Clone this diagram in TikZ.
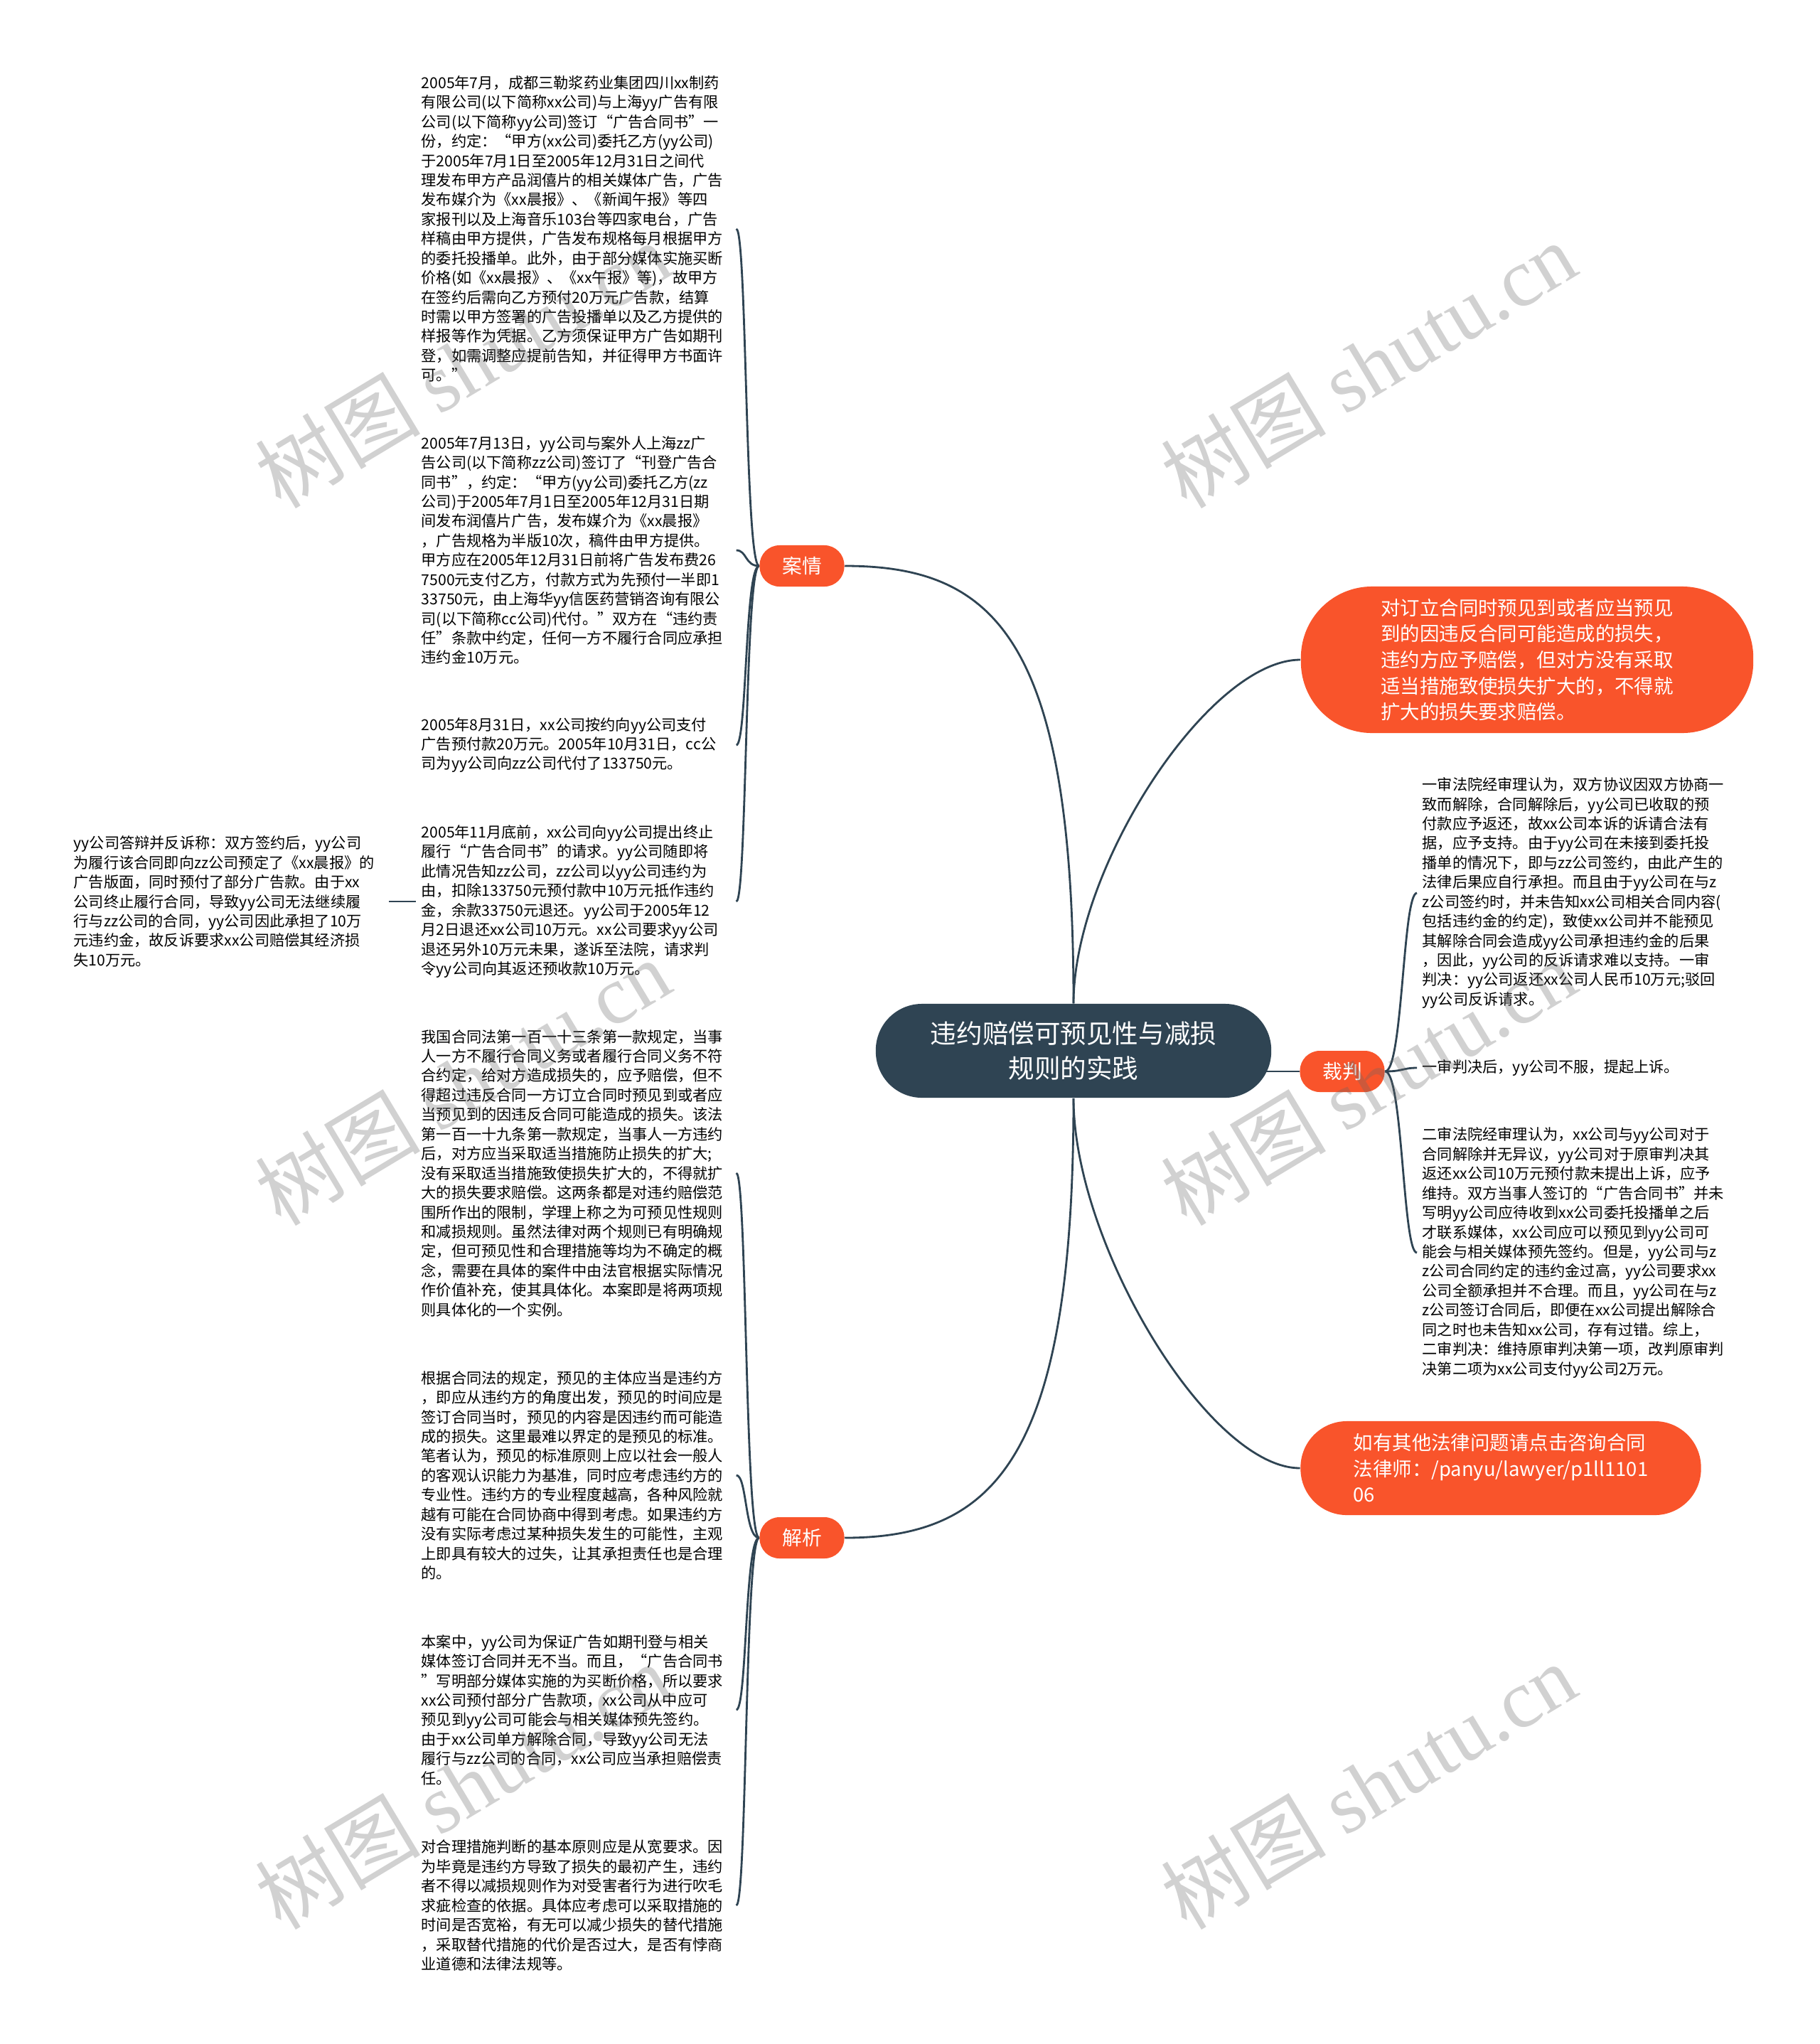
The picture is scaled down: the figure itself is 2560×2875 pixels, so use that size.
\documentclass[tikz,border=0pt]{standalone}
\usepackage{fontspec}
\setmainfont{Noto Sans CJK SC}
\newfontfamily\wmlatin{Liberation Serif}
\usetikzlibrary{positioning,backgrounds}

\definecolor{mmorange}{RGB}{249,84,43}
\definecolor{mmdark}{RGB}{47,68,83}

\tikzset{
  root/.style={fill=mmdark, text=white, rounded corners=0.65cm, minimum width=5.56cm,
    minimum height=1.32cm, align=center, font=\fontsize{10.4pt}{14pt}\selectfont},
  topic/.style={fill=mmorange, text=white, rounded corners=0.28cm, minimum width=1.19cm,
    minimum height=0.58cm, font=\fontsize{7.9pt}{9pt}\selectfont},
  callout/.style={fill=mmorange, text=white, align=left, font=\fontsize{7.8pt}{10.4pt}\selectfont},
  leaf/.style={anchor=west, text width=4.35cm, align=left, inner xsep=0.07cm, inner ysep=0pt,
    font=\fontsize{6.03pt}{7.8pt}\selectfont},
  link/.style={draw=mmdark, line width=0.8pt},
  wmark/.style={rotate=31, text=black!60, opacity=0.3, font=\fontsize{33pt}{33pt}\selectfont}
}

\begin{document}
\begin{tikzpicture}[x=0.01cm, y=-0.01cm]
  \useasboundingbox (0,0) rectangle (2560,2875);

  % Central topic and branches
  \node[root] (core) at (1510,1478) {违约赔偿可预见性与减损\\规则的实践};
  \node[topic] (anqing) at (1128,796) {案情};
  \node[topic] (jiexi) at (1128,2163) {解析};
  \node[topic] (caipan) at (1888,1507) {裁判};
  \node[callout, minimum width=6.36cm, minimum height=2.06cm, rounded corners=1cm] (rule) at (2148,928)
    {对订立合同时预见到或者应当预见\\到的因违反合同可能造成的损失，\\违约方应予赔偿，但对方没有采取\\适当措施致使损失扩大的，不得就\\扩大的损失要求赔偿。};
  \node[callout, minimum width=5.63cm, minimum height=1.32cm, rounded corners=0.65cm] (consult) at (2111,2065)
    {如有其他法律问题请点击咨询合同\\法律师：/panyu/lawyer/p1ll1101\\06};

  % 案情
  \node[leaf] (a1) at (585,322) {2005年7月，成都三勒浆药业集团四川xx制药\\
    有限公司(以下简称xx公司)与上海yy广告有限\\
    公司(以下简称yy公司)签订“广告合同书”一\\
    份，约定：“甲方(xx公司)委托乙方(yy公司)\\
    于2005年7月1日至2005年12月31日之间代\\
    理发布甲方产品润僖片的相关媒体广告，广告\\
    发布媒介为《xx晨报》、《新闻午报》等四\\
    家报刊以及上海音乐103台等四家电台，广告\\
    样稿由甲方提供，广告发布规格每月根据甲方\\
    的委托投播单。此外，由于部分媒体实施买断\\
    价格(如《xx晨报》、《xx午报》等)，故甲方\\
    在签约后需向乙方预付20万元广告款，结算\\
    时需以甲方签署的广告投播单以及乙方提供的\\
    样报等作为凭据。乙方须保证甲方广告如期刊\\
    登，如需调整应提前告知，并征得甲方书面许\\
    可。”};
  \node[leaf] (a2) at (585,774) {2005年7月13日，yy公司与案外人上海zz广\\
    告公司(以下简称zz公司)签订了“刊登广告合\\
    同书”，约定：“甲方(yy公司)委托乙方(zz\\
    公司)于2005年7月1日至2005年12月31日期\\
    间发布润僖片广告，发布媒介为《xx晨报》\\
    ，广告规格为半版10次，稿件由甲方提供。\\
    甲方应在2005年12月31日前将广告发布费26\\
    7500元支付乙方，付款方式为先预付一半即1\\
    33750元，由上海华yy信医药营销咨询有限公\\
    司(以下简称cc公司)代付。”双方在“违约责\\
    任”条款中约定，任何一方不履行合同应承担\\
    违约金10万元。};
  \node[leaf] (a3) at (585,1048) {2005年8月31日，xx公司按约向yy公司支付\\
    广告预付款20万元。2005年10月31日，cc公\\
    司为yy公司向zz公司代付了133750元。};
  \node[leaf] (a4) at (585,1268) {2005年11月底前，xx公司向yy公司提出终止\\
    履行“广告合同书”的请求。yy公司随即将\\
    此情况告知zz公司，zz公司以yy公司违约为\\
    由，扣除133750元预付款中10万元抵作违约\\
    金，余款33750元退还。yy公司于2005年12\\
    月2日退还xx公司10万元。xx公司要求yy公司\\
    退还另外10万元未果，遂诉至法院，请求判\\
    令yy公司向其返还预收款10万元。};
  \node[leaf] (a4x) at (96,1268) {yy公司答辩并反诉称：双方签约后，yy公司\\
    为履行该合同即向zz公司预定了《xx晨报》的\\
    广告版面，同时预付了部分广告款。由于xx\\
    公司终止履行合同，导致yy公司无法继续履\\
    行与zz公司的合同，yy公司因此承担了10万\\
    元违约金，故反诉要求xx公司赔偿其经济损\\
    失10万元。};

  % 解析
  \node[leaf] (j1) at (585,1650) {我国合同法第一百一十三条第一款规定，当事\\
    人一方不履行合同义务或者履行合同义务不符\\
    合约定，给对方造成损失的，应予赔偿，但不\\
    得超过违反合同一方订立合同时预见到或者应\\
    当预见到的因违反合同可能造成的损失。该法\\
    第一百一十九条第一款规定，当事人一方违约\\
    后，对方应当采取适当措施防止损失的扩大;\\
    没有采取适当措施致使损失扩大的，不得就扩\\
    大的损失要求赔偿。这两条都是对违约赔偿范\\
    围所作出的限制，学理上称之为可预见性规则\\
    和减损规则。虽然法律对两个规则已有明确规\\
    定，但可预见性和合理措施等均为不确定的概\\
    念，需要在具体的案件中由法官根据实际情况\\
    作价值补充，使其具体化。本案即是将两项规\\
    则具体化的一个实例。};
  \node[leaf] (j2) at (585,2075) {根据合同法的规定，预见的主体应当是违约方\\
    ，即应从违约方的角度出发，预见的时间应是\\
    签订合同当时，预见的内容是因违约而可能造\\
    成的损失。这里最难以界定的是预见的标准。\\
    笔者认为，预见的标准原则上应以社会一般人\\
    的客观认识能力为基准，同时应考虑违约方的\\
    专业性。违约方的专业程度越高，各种风险就\\
    越有可能在合同协商中得到考虑。如果违约方\\
    没有实际考虑过某种损失发生的可能性，主观\\
    上即具有较大的过失，让其承担责任也是合理\\
    的。};
  \node[leaf] (j3) at (585,2405) {本案中，yy公司为保证广告如期刊登与相关\\
    媒体签订合同并无不当。而且，“广告合同书\\
    ”写明部分媒体实施的为买断价格，所以要求\\
    xx公司预付部分广告款项，xx公司从中应可\\
    预见到yy公司可能会与相关媒体预先签约。\\
    由于xx公司单方解除合同，导致yy公司无法\\
    履行与zz公司的合同，xx公司应当承担赔偿责\\
    任。};
  \node[leaf] (j4) at (585,2680) {对合理措施判断的基本原则应是从宽要求。因\\
    为毕竟是违约方导致了损失的最初产生，违约\\
    者不得以减损规则作为对受害者行为进行吹毛\\
    求疵检查的依据。具体应考虑可以采取措施的\\
    时间是否宽裕，有无可以减少损失的替代措施\\
    ，采取替代措施的代价是否过大，是否有悖商\\
    业道德和法律法规等。};

  % 裁判
  \node[leaf] (c1) at (1993,1256) {一审法院经审理认为，双方协议因双方协商一\\
    致而解除，合同解除后，yy公司已收取的预\\
    付款应予返还，故xx公司本诉的诉请合法有\\
    据，应予支持。由于yy公司在未接到委托投\\
    播单的情况下，即与zz公司签约，由此产生的\\
    法律后果应自行承担。而且由于yy公司在与z\\
    z公司签约时，并未告知xx公司相关合同内容(\\
    包括违约金的约定)，致使xx公司并不能预见\\
    其解除合同会造成yy公司承担违约金的后果\\
    ，因此，yy公司的反诉请求难以支持。一审\\
    判决：yy公司返还xx公司人民币10万元;驳回\\
    yy公司反诉请求。};
  \node[leaf] (c2) at (1993,1502) {一审判决后，yy公司不服，提起上诉。};
  \node[leaf] (c3) at (1993,1762) {二审法院经审理认为，xx公司与yy公司对于\\
    合同解除并无异议，yy公司对于原审判决其\\
    返还xx公司10万元预付款未提出上诉，应予\\
    维持。双方当事人签订的“广告合同书”并未\\
    写明yy公司应待收到xx公司委托投播单之后\\
    才联系媒体，xx公司应可以预见到yy公司可\\
    能会与相关媒体预先签约。但是，yy公司与z\\
    z公司合同约定的违约金过高，yy公司要求xx\\
    公司全额承担并不合理。而且，yy公司在与z\\
    z公司签订合同后，即便在xx公司提出解除合\\
    同之时也未告知xx公司，存有过错。综上，\\
    二审判决：维持原审判决第一项，改判原审判\\
    决第二项为xx公司支付yy公司2万元。};

  % Connectors
  \begin{scope}[on background layer]
    \draw[link] (core.north) .. controls (1510,900) and (1400,796) .. (anqing.east);
    \draw[link] (core.north) .. controls (1510,1220) and (1700,928) .. (rule.west);
    \draw[link] (core.south) .. controls (1510,2050) and (1400,2163) .. (jiexi.east);
    \draw[link] (core.south) .. controls (1510,1750) and (1700,2065) .. (consult.west);
    \draw[link] (caipan.west) -- (caipan.west -| core.center);
    \foreach \n in {a1,a2,a3,a4}
      \draw[link] (anqing.west) .. controls +(-20,0) and +(15,0) .. (\n.east);
    \foreach \n in {j1,j2,j3,j4}
      \draw[link] (jiexi.west) .. controls +(-20,0) and +(15,0) .. (\n.east);
    \foreach \n in {c1,c2,c3}
      \draw[link] (caipan.east) .. controls +(25,0) and +(-20,0) .. (\n.west);
    \draw[link] (a4.west) -- (a4x.east);
  \end{scope}

  % Watermark
  \foreach \wx/\wy [count=\i] in {651/513, 1925/513, 651/1522, 1925/1522, 651/2512, 1925/2512}
    \node[wmark] (wm\i) at (\wx,\wy) {树图 {\wmlatin shutu.cn}};
\end{tikzpicture}
\end{document}
